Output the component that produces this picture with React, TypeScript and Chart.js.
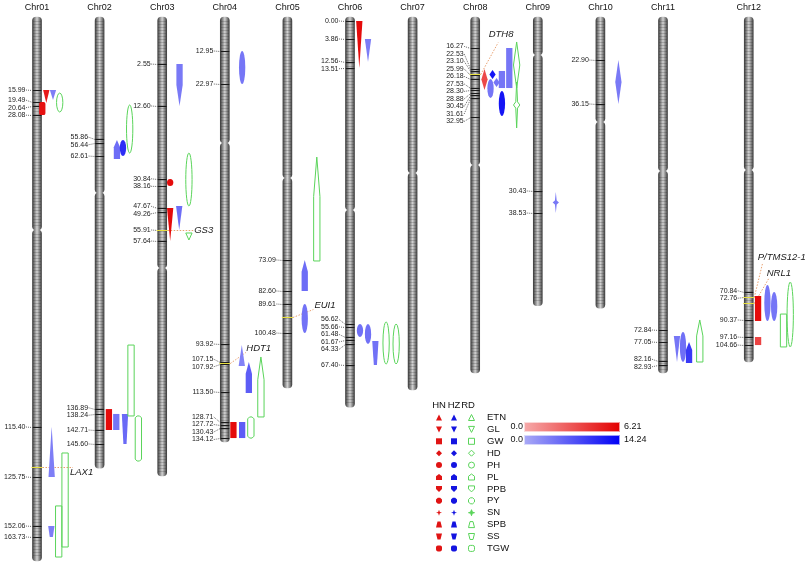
import React, { useEffect, useRef } from 'react';
import { Chart, registerables } from 'chart.js';

Chart.register(...registerables);

// ---------------- data ----------------
const chromosomes = ['Chr01', 'Chr02', 'Chr03', 'Chr04', 'Chr05', 'Chr06', 'Chr07', 'Chr08', 'Chr09', 'Chr10', 'Chr11', 'Chr12'];
// physical length and centromere (Mb)
const chromLengthMb = [43.35, 35.94, 36.57, 33.86, 29.56, 31.08, 29.72, 28.37, 23.0, 23.2, 28.37, 27.49];
const centromereMb = [16.97, 14.02, 20.0, 10.04, 12.83, 15.38, 12.43, 11.79, 3.03, 8.37, 12.27, 12.19];

// markers: chromosome, physical position (Mb), genetic position label (cM)
const markers: [string, number, string][] = [
  ['Chr01', 5.82, '15.99'], ['Chr01', 6.77, '19.49'], ['Chr01', 7.09, '20.64'], ['Chr01', 7.81, '28.08'],
  ['Chr01', 32.67, '115.40'], ['Chr01', 36.65, '125.75'], ['Chr01', 40.56, '152.06'], ['Chr01', 41.43, '163.73'],
  ['Chr02', 9.72, '55.86'], ['Chr02', 10.04, '56.44'], ['Chr02', 11.08, '62.61'],
  ['Chr02', 31.24, '136.89'], ['Chr02', 31.63, '138.24'], ['Chr02', 32.91, '142.71'], ['Chr02', 34.02, '145.60'],
  ['Chr03', 3.75, '2.55'], ['Chr03', 7.09, '12.60'], ['Chr03', 12.91, '30.84'], ['Chr03', 13.47, '38.16'],
  ['Chr03', 15.22, '47.67'], ['Chr03', 15.54, '49.26'], ['Chr03', 16.97, '55.91'], ['Chr03', 17.85, '57.64'],
  ['Chr04', 2.71, '12.95'], ['Chr04', 5.34, '22.97'], ['Chr04', 26.06, '93.92'], ['Chr04', 27.49, '107.15'],
  ['Chr04', 27.65, '107.92'], ['Chr04', 29.88, '113.50'], ['Chr04', 32.27, '128.71'], ['Chr04', 32.51, '127.72'],
  ['Chr04', 32.75, '130.43'], ['Chr04', 33.55, '134.12'],
  ['Chr05', 19.36, '73.09'], ['Chr05', 21.83, '82.60'], ['Chr05', 22.87, '89.61'], ['Chr05', 25.18, '100.48'],
  ['Chr06', 0.32, '0.00'], ['Chr06', 1.75, '3.86'], ['Chr06', 3.59, '12.56'], ['Chr06', 4.06, '13.51'],
  ['Chr06', 24.46, '56.62'], ['Chr06', 24.7, '55.66'], ['Chr06', 25.5, '61.48'], ['Chr06', 25.74, '61.67'],
  ['Chr06', 26.06, '64.33'], ['Chr06', 27.73, '67.40'],
  ['Chr08', 2.47, '16.27'], ['Chr08', 4.14, '22.53'], ['Chr08', 4.3, '23.10'], ['Chr08', 4.62, '25.99'],
  ['Chr08', 4.94, '26.18'], ['Chr08', 5.66, '27.53'], ['Chr08', 5.82, '28.30'], ['Chr08', 6.06, '28.88'],
  ['Chr08', 6.22, '30.45'], ['Chr08', 6.45, '31.61'], ['Chr08', 7.97, '32.95'],
  ['Chr09', 13.86, '30.43'], ['Chr09', 15.62, '38.53'],
  ['Chr10', 3.43, '22.90'], ['Chr10', 6.93, '36.15'],
  ['Chr11', 24.94, '72.84'], ['Chr11', 25.9, '77.05'], ['Chr11', 27.41, '82.16'], ['Chr11', 27.73, '82.93'],
  ['Chr12', 21.91, '70.84'], ['Chr12', 22.31, '72.76'], ['Chr12', 24.14, '90.37'], ['Chr12', 25.5, '97.16'], ['Chr12', 26.14, '104.66'],
];

// known genes: chromosome, position (Mb), name
const genes: [string, number, string][] = [
  ['Chr01', 35.86, 'LAX1'],
  ['Chr03', 16.97, 'GS3'],
  ['Chr04', 27.57, 'HDT1'],
  ['Chr05', 23.9, 'EUI1'],
  ['Chr08', 4.54, 'DTH8'],
  ['Chr12', 22.31, 'P/TMS12-1'],
  ['Chr12', 22.79, 'NRL1'],
];

const traits = ['ETN', 'GL', 'GW', 'HD', 'PH', 'PL', 'PPB', 'PY', 'SN', 'SPB', 'SS', 'TGW'];
const environments = ['HN', 'HZ', 'RD'];
const envMax = [6.21, 14.24];

// QTL: chromosome, trait, environment, start (Mb), end (Mb), value, lane
const qtls: [string, string, string, number, number, number, number][] = [
  ['Chr01', 'GL', 'HN', 5.82, 6.85, 5.3, 0],
  ['Chr01', 'GL', 'HZ', 5.82, 6.61, 3.8, 1],
  ['Chr01', 'TGW', 'HN', 6.77, 7.81, 5.6, -0.6],
  ['Chr01', 'PH', 'RD', 6.06, 7.57, 0, 2],
  ['Chr01', 'ETN', 'HZ', 32.67, 36.65, 3.8, 0.8],
  ['Chr01', 'SS', 'HZ', 40.56, 41.43, 3.8, 0.75],
  ['Chr01', 'GW', 'RD', 38.96, 43.03, 0, 1.85],
  ['Chr01', 'GW', 'RD', 34.74, 42.23, 0, 2.8],
  ['Chr02', 'PL', 'HZ', 9.8, 11.31, 5.2, 1.2],
  ['Chr02', 'PH', 'HZ', 9.8, 11.08, 10.5, 2.1],
  ['Chr02', 'PH', 'RD', 7.01, 10.84, 0, 3.1],
  ['Chr02', 'GW', 'HN', 31.24, 32.91, 5.8, 0],
  ['Chr02', 'GW', 'HZ', 31.63, 32.91, 4.5, 1.1],
  ['Chr02', 'SS', 'HZ', 31.63, 34.02, 5.5, 2.4],
  ['Chr02', 'GW', 'RD', 26.14, 31.79, 0, 3.3],
  ['Chr02', 'PY', 'RD', 31.79, 35.38, 0, 4.4],
  ['Chr03', 'PPB', 'HZ', 3.75, 7.09, 4.2, 1.2],
  ['Chr03', 'PH', 'HN', 12.91, 13.47, 5.8, -0.2],
  ['Chr03', 'PH', 'RD', 10.84, 15.06, 0, 2.6],
  ['Chr03', 'GL', 'HN', 15.22, 17.85, 5.8, -0.2],
  ['Chr03', 'GL', 'HZ', 15.06, 16.97, 5.2, 1.15],
  ['Chr03', 'GL', 'RD', 17.21, 17.77, 0, 2.6],
  ['Chr04', 'PH', 'HZ', 2.71, 5.34, 4.5, 1.2],
  ['Chr04', 'ETN', 'HZ', 26.14, 27.81, 3.5, 1.15],
  ['Chr04', 'PL', 'HZ', 27.49, 29.96, 6.5, 2.2],
  ['Chr04', 'PL', 'RD', 27.09, 31.87, 0, 4.0],
  ['Chr04', 'GW', 'HN', 32.27, 33.55, 5.8, -0.1],
  ['Chr04', 'GW', 'HZ', 32.27, 33.55, 6.5, 1.2],
  ['Chr04', 'PY', 'RD', 31.87, 33.55, 0, 2.5],
  ['Chr05', 'PL', 'HZ', 19.36, 21.83, 5.2, 1.2],
  ['Chr05', 'PH', 'HZ', 22.87, 25.18, 4.8, 1.2],
  ['Chr05', 'PL', 'RD', 11.16, 19.44, 0, 3.0],
  ['Chr06', 'GL', 'HN', 0.32, 4.06, 5.8, 0],
  ['Chr06', 'GL', 'HZ', 1.75, 3.59, 4.0, 1.3],
  ['Chr06', 'PH', 'HZ', 24.46, 25.5, 5.0, 0.1],
  ['Chr06', 'PH', 'HZ', 24.46, 26.06, 5.0, 1.3],
  ['Chr06', 'SS', 'HZ', 25.82, 27.73, 4.8, 2.4],
  ['Chr06', 'PH', 'RD', 24.3, 27.65, 0, 4.0],
  ['Chr06', 'PH', 'RD', 24.46, 27.65, 0, 5.5],
  ['Chr08', 'HD', 'HN', 4.14, 5.82, 3.6, 0],
  ['Chr08', 'HD', 'HZ', 4.22, 4.94, 12.5, 1.2],
  ['Chr08', 'PH', 'HZ', 4.94, 6.45, 4.5, 0.9],
  ['Chr08', 'HD', 'HZ', 4.86, 5.58, 4.5, 1.8],
  ['Chr08', 'GW', 'HZ', 4.3, 5.66, 4.5, 2.6],
  ['Chr08', 'GW', 'HZ', 2.47, 5.66, 4.5, 3.7],
  ['Chr08', 'PH', 'HZ', 5.9, 7.89, 12.5, 2.6],
  ['Chr08', 'HD', 'RD', 1.99, 5.66, 0, 4.8],
  ['Chr08', 'SN', 'RD', 5.18, 8.84, 0, 4.8],
  ['Chr09', 'SN', 'HZ', 13.94, 15.62, 4.2, 1.3],
  ['Chr10', 'HD', 'HZ', 3.43, 6.93, 4.2, 1.3],
  ['Chr11', 'GL', 'HZ', 25.42, 27.49, 4.5, 0.7],
  ['Chr11', 'PH', 'HZ', 25.1, 27.49, 5.0, 1.6],
  ['Chr11', 'PL', 'HZ', 25.9, 27.57, 9.5, 2.5],
  ['Chr11', 'PL', 'RD', 24.14, 27.49, 0, 4.1],
  ['Chr12', 'GW', 'HN', 22.23, 24.22, 5.8, 0],
  ['Chr12', 'GW', 'HN', 25.5, 26.14, 3.8, 0],
  ['Chr12', 'PH', 'HZ', 21.35, 24.22, 4.5, 1.4],
  ['Chr12', 'PH', 'HZ', 21.91, 24.22, 4.5, 2.4],
  ['Chr12', 'GW', 'RD', 23.67, 26.29, 0, 3.8],
  ['Chr12', 'PH', 'RD', 21.12, 26.29, 0, 4.8],
];

// ---------------- layout / style ----------------
const FONT = '"Liberation Sans", Arial, sans-serif';
const CHR_W = 9;
const LANE_BASE = 9.3;
const LANE_W = 6.7;
const GLYPH_W = 6.3;
const GREEN = '#5ad45a';
const chromSlot = (i: number) => i + (i >= 11 ? 0.37 : 0);
// gene label placement: [line end dx, line end dy, label dx, label dy(middle)]
const geneLabelOffset: Record<string, [number, number, number, number]> = {
  LAX1: [36, 0, 33, 5],
  GS3: [31, 0, 32, 0],
  HDT1: [21, -11, 21.5, -15],
  EUI1: [26, -8, 27, -12],
  DTH8: [23, -32, 13.5, -40],
  'P/TMS12-1': [14, -35, 9, -40],
  NRL1: [20, -25, 18, -30],
};

const lerp = (a: number, b: number, t: number) => Math.round(a + (b - a) * t);
function envColor(env: string, v: number) {
  const e = environments.indexOf(env);
  const t = Math.max(0, Math.min(1, v / envMax[e]));
  if (e === 0) return `rgb(${lerp(247, 228, t)},${lerp(172, 0, t)},${lerp(172, 0, t)})`;
  return `rgb(${lerp(172, 0, t)},${lerp(172, 0, t)},${lerp(247, 245, t)})`;
}

function tracePath(ctx: CanvasRenderingContext2D, trait: string, cx: number, y0: number, y1: number, w: number) {
  const x0 = cx - w / 2, x1 = cx + w / 2, h = y1 - y0, cy = (y0 + y1) / 2;
  ctx.beginPath();
  switch (trait) {
    case 'ETN':
      ctx.moveTo(cx, y0); ctx.lineTo(x1, y1); ctx.lineTo(x0, y1); break;
    case 'GL':
      ctx.moveTo(x0, y0); ctx.lineTo(x1, y0); ctx.lineTo(cx, y1); break;
    case 'GW':
      ctx.rect(x0, y0, w, h); break;
    case 'HD':
      ctx.moveTo(cx, y0); ctx.lineTo(x1, cy); ctx.lineTo(cx, y1); ctx.lineTo(x0, cy); break;
    case 'PH':
      ctx.ellipse(cx, cy, w / 2, h / 2, 0, 0, Math.PI * 2); break;
    case 'PL': {
      const k = h * 0.38;
      ctx.moveTo(cx, y0); ctx.lineTo(x1, y0 + k); ctx.lineTo(x1, y1); ctx.lineTo(x0, y1); ctx.lineTo(x0, y0 + k); break;
    }
    case 'PPB': {
      const k = h * 0.5;
      ctx.moveTo(x0, y0); ctx.lineTo(x1, y0); ctx.lineTo(x1, y1 - k); ctx.lineTo(cx, y1); ctx.lineTo(x0, y1 - k); break;
    }
    case 'PY': {
      const c = Math.min(w * 0.3, h * 0.3);
      ctx.moveTo(x0 + c, y0); ctx.lineTo(x1 - c, y0); ctx.lineTo(x1, y0 + c); ctx.lineTo(x1, y1 - c);
      ctx.lineTo(x1 - c, y1); ctx.lineTo(x0 + c, y1); ctx.lineTo(x0, y1 - c); ctx.lineTo(x0, y0 + c); break;
    }
    case 'SN': {
      const iw = w * 0.14, ih = Math.min(h * 0.1, w * 0.5);
      ctx.moveTo(cx, y0); ctx.lineTo(cx + iw, cy - ih); ctx.lineTo(x1, cy); ctx.lineTo(cx + iw, cy + ih);
      ctx.lineTo(cx, y1); ctx.lineTo(cx - iw, cy + ih); ctx.lineTo(x0, cy); ctx.lineTo(cx - iw, cy - ih); break;
    }
    case 'SPB':
      ctx.moveTo(cx - w * 0.25, y0); ctx.lineTo(cx + w * 0.25, y0); ctx.lineTo(x1, y1); ctx.lineTo(x0, y1); break;
    case 'SS':
      ctx.moveTo(x0, y0); ctx.lineTo(x1, y0); ctx.lineTo(cx + w * 0.25, y1); ctx.lineTo(cx - w * 0.25, y1); break;
    case 'TGW':
      ctx.roundRect(x0, y0, w, h, Math.min(w, h) * 0.3); break;
  }
  ctx.closePath();
}

function paintGlyph(ctx: CanvasRenderingContext2D, trait: string, env: string, v: number, cx: number, y0: number, y1: number, w: number, legend = false) {
  tracePath(ctx, trait, cx, y0, y1, w);
  if (env === 'RD') {
    if (legend && trait === 'SN') { ctx.fillStyle = GREEN; ctx.fill(); }
    ctx.strokeStyle = GREEN; ctx.lineWidth = 1; ctx.stroke();
  } else {
    ctx.fillStyle = legend ? (env === 'HN' ? '#e01414' : '#1414e0') : envColor(env, v);
    ctx.fill();
  }
}

const mapPlugin = {
  id: 'chromMap',
  afterDatasetsDraw(chart: any) {
    const ctx: CanvasRenderingContext2D = chart.ctx;
    const xs = chart.scales.x, ys = chart.scales.y;
    const cxOf = (name: string) => xs.getPixelForValue(chromSlot(chromosomes.indexOf(name)));
    const py = (mb: number) => ys.getPixelForValue(mb);
    ctx.save();

    // chromosome texture + titles
    chromosomes.forEach((name, i) => {
      const cx = xs.getPixelForValue(chromSlot(i));
      const top = py(0), bot = py(chromLengthMb[i]), cen = py(centromereMb[i]);
      ctx.strokeStyle = 'rgba(30,30,30,0.2)';
      ctx.lineWidth = 1;
      for (let y = top + 4; y < bot - 4; y += 3) {
        if (Math.abs(y - cen) < 4) continue;
        ctx.beginPath(); ctx.moveTo(cx - CHR_W / 2 + 0.5, Math.round(y) + 0.5); ctx.lineTo(cx + CHR_W / 2 - 0.5, Math.round(y) + 0.5); ctx.stroke();
      }
      ctx.fillStyle = '#111';
      ctx.font = `9px ${FONT}`;
      ctx.textAlign = 'center';
      ctx.textBaseline = 'alphabetic';
      ctx.fillText(name, cx, 9.5);
    });

    // markers: ticks, leaders and labels
    chromosomes.forEach((name) => {
      const list = markers.filter((m) => m[0] === name).map((m) => ({ y: py(m[1]), label: m[2] }));
      if (!list.length) return;
      const cx = cxOf(name);
      const left = cx - CHR_W / 2;
      // spread labels
      const gap = 7.5;
      const clusters: { ys: number[]; top: number }[] = [];
      list.forEach((m) => {
        clusters.push({ ys: [m.y], top: m.y });
        while (clusters.length > 1) {
          const a = clusters[clusters.length - 2], b = clusters[clusters.length - 1];
          if (a.top + a.ys.length * gap > b.top) {
            const ysAll = a.ys.concat(b.ys);
            const mean = ysAll.reduce((s, v) => s + v, 0) / ysAll.length;
            clusters.splice(clusters.length - 2, 2, { ys: ysAll, top: mean - ((ysAll.length - 1) * gap) / 2 });
          } else break;
        }
      });
      const labelY: number[] = [];
      clusters.forEach((c) => c.ys.forEach((_, k) => labelY.push(c.top + k * gap)));
      list.forEach((m, k) => {
        const ty = Math.round(m.y) + 0.5;
        ctx.strokeStyle = '#1a1a1a';
        ctx.lineWidth = 1;
        ctx.setLineDash([]);
        ctx.beginPath(); ctx.moveTo(left, ty); ctx.lineTo(left + CHR_W, ty); ctx.stroke();
        ctx.strokeStyle = '#666';
        ctx.setLineDash([1, 1]);
        ctx.beginPath(); ctx.moveTo(left - 6.5, labelY[k]); ctx.lineTo(left, ty); ctx.stroke();
        ctx.setLineDash([]);
        ctx.fillStyle = '#222';
        ctx.font = `7px ${FONT}`;
        ctx.textAlign = 'right';
        ctx.textBaseline = 'middle';
        ctx.fillText(m.label, left - 7, labelY[k]);
      });
    });

    // genes
    genes.forEach(([chr, mb, gname]) => {
      const cx = cxOf(chr);
      const gy = Math.round(py(mb)) + 0.5;
      const [lx, ly, tx, ty] = geneLabelOffset[gname];
      ctx.strokeStyle = '#e8e040';
      ctx.lineWidth = 1;
      ctx.beginPath(); ctx.moveTo(cx - CHR_W / 2 - 1, gy); ctx.lineTo(cx + CHR_W / 2 + 1, gy); ctx.stroke();
      ctx.strokeStyle = '#e8a070';
      ctx.setLineDash([1.5, 1.5]);
      ctx.beginPath(); ctx.moveTo(cx + CHR_W / 2 + 1, gy); ctx.lineTo(cx + lx, gy + ly); ctx.stroke();
      ctx.setLineDash([]);
      ctx.fillStyle = '#1a1a1a';
      ctx.font = `italic 9.5px ${FONT}`;
      ctx.textAlign = 'left';
      ctx.textBaseline = 'middle';
      ctx.fillText(gname, cx + tx, gy + ty);
    });

    // QTL glyphs
    qtls.forEach(([chr, trait, env, s, e, v, lane]) => {
      const cx = cxOf(chr) + LANE_BASE + lane * LANE_W;
      paintGlyph(ctx, trait, env, v, cx, py(s), py(e), GLYPH_W);
    });

    // legend
    const colX = [439, 454, 471.5];
    ctx.font = `9.5px ${FONT}`;
    ctx.fillStyle = '#111';
    ctx.textAlign = 'center';
    ctx.textBaseline = 'middle';
    environments.forEach((env, k) => ctx.fillText(env, [439, 454, 468][k], 405));
    traits.forEach((t, r) => {
      const y = 417.5 + r * 11.9;
      environments.forEach((env, k) => paintGlyph(ctx, t, env, 0, colX[k], y - 3, y + 3, 6, true));
      ctx.fillStyle = '#111';
      ctx.font = `9.5px ${FONT}`;
      ctx.textAlign = 'left';
      ctx.textBaseline = 'middle';
      ctx.fillText(t, 487, y);
    });
    // colour bars
    const bars: [number, string, string, string][] = [
      [422, '#f6aaaa', '#e30000', envMax[0].toFixed(2)],
      [435, '#aaaaf6', '#0000f5', envMax[1].toFixed(2)],
    ];
    bars.forEach(([y, c0, c1, txt]) => {
      const g = ctx.createLinearGradient(524, 0, 620, 0);
      g.addColorStop(0, c0); g.addColorStop(1, c1);
      ctx.fillStyle = g;
      ctx.fillRect(524, y, 96, 10);
      ctx.strokeStyle = 'rgba(255,255,255,0.6)';
      ctx.lineWidth = 1;
      ctx.strokeRect(524.5, y + 0.5, 95, 9);
      ctx.fillStyle = '#111';
      ctx.font = `9px ${FONT}`;
      ctx.textAlign = 'right';
      ctx.textBaseline = 'middle';
      ctx.fillText('0.0', 523, y + 4.5);
      ctx.textAlign = 'left';
      ctx.fillText(txt, 624, y + 4.5);
    });

    ctx.restore();
  },
};

function chromGradient(c: any) {
  const chart = c.chart;
  const xs = chart.scales && chart.scales.x;
  if (!xs || !c.raw) return '#999';
  const px = xs.getPixelForValue(c.raw.x);
  if (!Number.isFinite(px)) return '#999';
  const g = chart.ctx.createLinearGradient(px - CHR_W / 2, 0, px + CHR_W / 2, 0);
  g.addColorStop(0, '#404040');
  g.addColorStop(0.25, '#8c8c8c');
  g.addColorStop(0.5, '#d2d2d2');
  g.addColorStop(0.75, '#8c8c8c');
  g.addColorStop(1, '#404040');
  return g;
}

export default function App() {
  const ref = useRef<HTMLCanvasElement>(null);
  useEffect(() => {
    if (!ref.current) return;
    const pArms = chromosomes.map((_, i) => ({ x: chromSlot(i), y: [0, centromereMb[i]] }));
    const qArms = chromosomes.map((_, i) => ({ x: chromSlot(i), y: [centromereMb[i], chromLengthMb[i]] }));
    const common = {
      backgroundColor: chromGradient,
      borderWidth: 0,
      borderRadius: 4,
      borderSkipped: false,
      barThickness: CHR_W,
      grouped: false,
    };
    const chart = new Chart(ref.current, {
      type: 'bar',
      data: {
        datasets: [
          { label: 'short arm', data: pArms as any, ...common } as any,
          { label: 'long arm', data: qArms as any, ...common } as any,
        ],
      },
      options: {
        responsive: false,
        animation: false,
        events: [],
        layout: { padding: 0 },
        plugins: { legend: { display: false }, tooltip: { enabled: false } },
        scales: {
          x: { type: 'linear', offset: false, min: -37 / 62.6, max: -37 / 62.6 + 810 / 62.6, display: false },
          y: { type: 'linear', min: -17 / 12.55, max: 545 / 12.55, reverse: true, display: false },
        },
      },
      plugins: [mapPlugin],
    });
    return () => chart.destroy();
  }, []);
  return (
    <div style={{ position: 'fixed', left: 0, top: 0, width: 810, height: 562, background: '#fff' }}>
      <canvas ref={ref} width={810} height={562} style={{ width: 810, height: 562 }} />
    </div>
  );
}
